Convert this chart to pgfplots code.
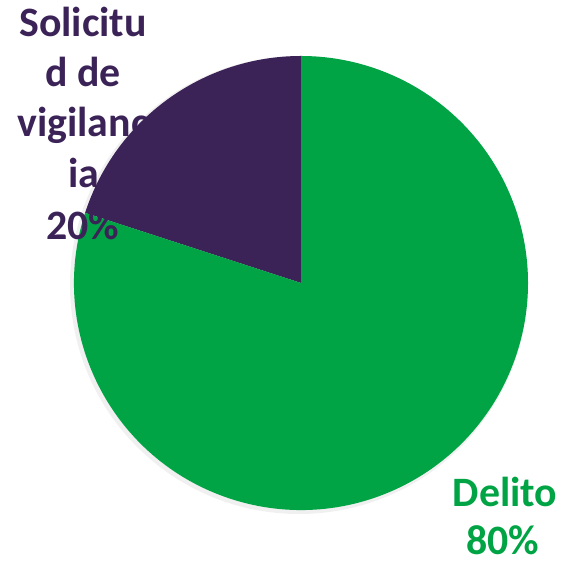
\documentclass[border=0pt]{standalone}
\usepackage{pgfplots}
\usepackage{pgfplotstable}
\pgfplotsset{compat=1.18}
\usepackage{fontspec}
\setmainfont{Carlito}
\definecolor{piepurple}{RGB}{59,35,87}
\definecolor{piegreen}{RGB}{0,164,68}
\pgfplotstableread{
label value
Delito 80
Solicitud 20
}\piedata
\begin{document}
\begin{tikzpicture}
\pgfplotstablegetelem{0}{value}\of\piedata \let\vA\pgfplotsretval
\pgfplotstablegetelem{1}{value}\of\piedata \let\vB\pgfplotsretval
\pgfmathsetmacro{\aB}{90+3.6*\vB}
\pgfmathsetmacro{\aA}{\aB+3.6*\vA}
\begin{axis}[name=ax, x=1bp, y=1bp, xmin=0, xmax=561, ymin=0, ymax=566,
  hide axis, clip=false, scale only axis]
\fill[black!6] (axis cs:299,281) circle[radius=229bp];
\fill[piepurple] (axis cs:301,283) -- ++(90:227bp) arc[start angle=90, end angle=\aB, radius=227bp] -- cycle;
\fill[piegreen] (axis cs:301,283) -- ++(\aB:227bp) arc[start angle=\aB, end angle=\aA, radius=227bp] -- cycle;
\begin{scope}[every node/.style={anchor=base, inner sep=0pt, text=piepurple, font=\fontsize{42}{50}\selectfont\bfseries}]
\node at (axis cs:83,529) {Solicitu};
\node at (axis cs:83,479) {d de};
\node at (axis cs:83,429) {vigilanc};
\node at (axis cs:84,378) {ia};
\node at (axis cs:83,326) {20\%};
\end{scope}
\begin{scope}[every node/.style={anchor=base, inner sep=0pt, text=piegreen, font=\fontsize{42}{50}\selectfont\bfseries}]
\node at (axis cs:505,59) {Delito};
\node at (axis cs:503,11) {80\%};
\end{scope}
\end{axis}
\pgfresetboundingbox
\path[use as bounding box] (ax.south west) rectangle (ax.north east);
\end{tikzpicture}
\end{document}
